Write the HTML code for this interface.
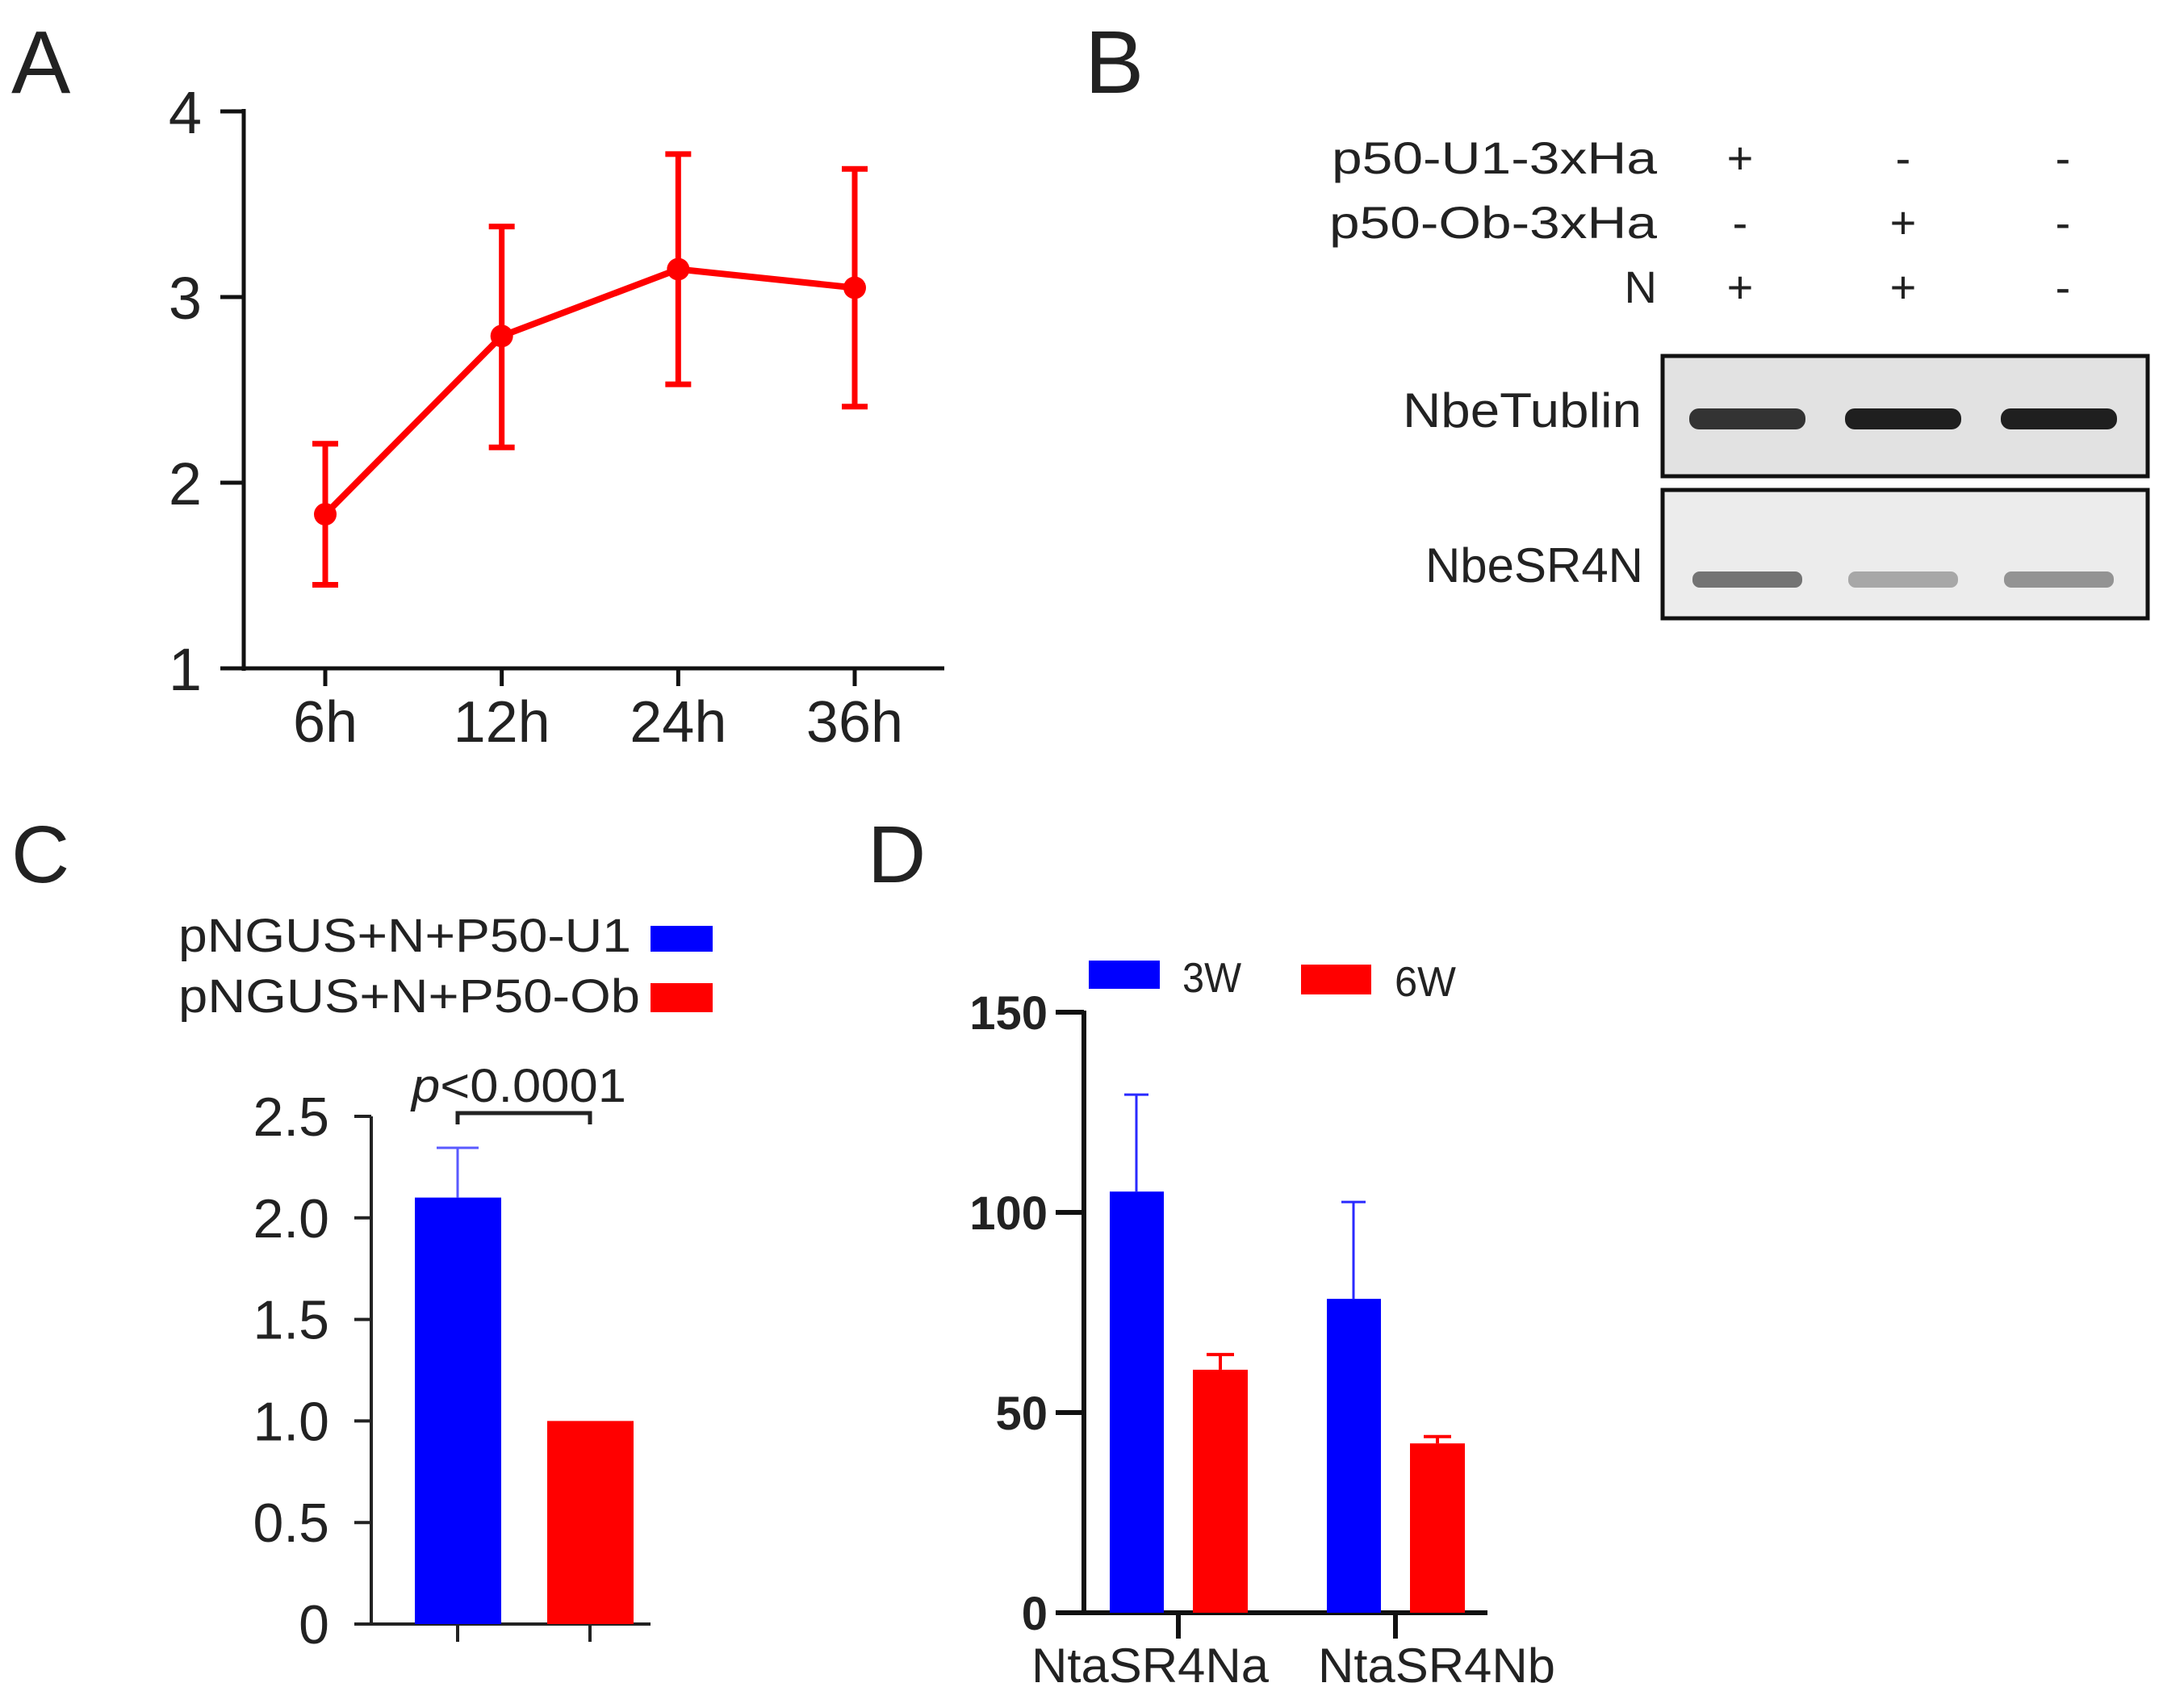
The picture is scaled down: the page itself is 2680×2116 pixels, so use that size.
<!DOCTYPE html>
<html><head><meta charset="utf-8">
<style>
html,body{margin:0;padding:0;background:#fff;}
svg{display:block;font-family:"Liberation Sans","Noto Sans CJK SC",sans-serif;}
text{fill:#222;}
</style></head>
<body>
<svg id="fig" width="2680" height="2116" viewBox="0 0 2680 2116" xmlns="http://www.w3.org/2000/svg">
<rect width="2680" height="2116" fill="#fff"/>
<text x="14" y="115" font-size="110">A</text>
<text x="1344" y="115" font-size="110">B</text>
<text x="14" y="1093" font-size="100">C</text>
<text x="1075" y="1093" font-size="100">D</text>

<g id="panelA"></g>

<g id="panelB">
  <text x="2053" y="215" font-size="56" text-anchor="end" textLength="403" lengthAdjust="spacingAndGlyphs">p50-U1-3xHa</text>
  <text x="2053" y="295" font-size="56" text-anchor="end" textLength="406" lengthAdjust="spacingAndGlyphs">p50-Ob-3xHa</text>
  <text x="2053" y="375" font-size="56" text-anchor="end">N</text>
  <text x="2034" y="529" font-size="60" text-anchor="end" textLength="296" lengthAdjust="spacingAndGlyphs">NbeTublin</text>
  <text x="2036" y="721" font-size="60" text-anchor="end" textLength="270" lengthAdjust="spacingAndGlyphs">NbeSR4N</text>
  <rect x="2060" y="441" width="601" height="149" fill="#e2e2e2" stroke="#111" stroke-width="5"/>
  <rect x="2060" y="607" width="601" height="159" fill="#ececec" stroke="#111" stroke-width="5"/>
</g>

<g id="panelC">
  <text x="221" y="1179" font-size="58" textLength="561" lengthAdjust="spacingAndGlyphs">pNGUS+N+P50-U1</text>
  <rect x="806" y="1147" width="77" height="32" fill="#0000ff"/>
  <text x="221" y="1254" font-size="58" textLength="572" lengthAdjust="spacingAndGlyphs">pNGUS+N+P50-Ob</text>
  <rect x="806" y="1218" width="77" height="36" fill="#ff0000"/>
</g>

<g id="panelD">
  <rect x="1349" y="1190" width="88" height="35" fill="#0000ff"/>
  <text x="1465" y="1229" font-size="52" fill="#333" textLength="73" lengthAdjust="spacingAndGlyphs">3W</text>
  <rect x="1612" y="1195" width="87" height="37" fill="#ff0000"/>
  <text x="1728" y="1234" font-size="52" fill="#333" textLength="76" lengthAdjust="spacingAndGlyphs">6W</text>
</g>
</svg>
<script>
const aCategories = ["6h","12h","24h","36h"];
const aMeans = [1.83, 2.79, 3.15, 3.05];
const aUpper = [2.21, 3.38, 3.77, 3.69];
const aLower = [1.45, 2.19, 2.53, 2.41];
const aTicks = [1,2,3,4];
const bLanes = ["lane1","lane2","lane3"];
const bU1 = ["+","-","-"];
const bOb = ["-","+","-"];
const bN = ["+","+","-"];
const bTublin = [0.85, 0.95, 0.95];
const bSR4N = [0.62, 0.35, 0.45];
const cCategories = ["pNGUS+N+P50-U1","pNGUS+N+P50-Ob"];
const cValues = [2.10, 1.0];
const cErrTop = [2.345, 1.0];
const cTicks = ["0","0.5","1.0","1.5","2.0","2.5"];
const cTickVals = [0,0.5,1,1.5,2,2.5];
const dCategories = ["NtaSR4Na","NtaSR4Nb"];
const d3W = [105.2, 78.4];
const d3WErr = [129.4, 102.6];
const d6W = [60.7, 42.3];
const d6WErr = [64.5, 44.0];
const dTicks = [0,50,100,150];

const NS = "http://www.w3.org/2000/svg";
function mk(parent, tag, attrs){ const e=document.createElementNS(NS,tag); for(const k in attrs) e.setAttribute(k,attrs[k]); parent.appendChild(e); return e; }

(function(){
  const g = document.getElementById("panelA");
  const y = v => 828 - (v-1)*230;
  const x0 = 403, x1 = 1059;
  const x = i => x0 + i*(x1-x0)/(aCategories.length-1);
  let e = mk(g,"line",{x1:302,y1:y(4)-3,x2:302,y2:y(1)+3,stroke:"#111","stroke-width":5});
  
  
  e = mk(g,"line",{x1:273,y1:y(1),x2:1170,y2:y(1),stroke:"#111","stroke-width":5});
  
  
  aTicks.forEach(t=>{
    let l = mk(g,"line",{x1:273,y1:y(t),x2:302,y2:y(t),stroke:"#111","stroke-width":5});
    
    
    let tx = mk(g,"text",{x:250,y:y(t)+27,"font-size":74,"text-anchor":"end"});
    tx.textContent = t;
    
    
  });
  aCategories.forEach((c,i)=>{
    let l = mk(g,"line",{x1:x(i),y1:y(1),x2:x(i),y2:y(1)+22,stroke:"#111","stroke-width":5});
    
    
    let tx = mk(g,"text",{x:x(i),y:919,"font-size":72,"text-anchor":"middle"});
    tx.textContent = c;
    
    
  });
  const pts = aMeans.map((v,i)=>x(i)+","+y(v)).join(" ");
  let pl = mk(g,"polyline",{points:pts,fill:"none",stroke:"#ff0000","stroke-width":8,"stroke-linejoin":"round"});
  
  
  aMeans.forEach((v,i)=>{
    let eb = mk(g,"path",{d:`M${x(i)},${y(aUpper[i])}V${y(aLower[i])}M${x(i)-16},${y(aUpper[i])}h32M${x(i)-16},${y(aLower[i])}h32`,stroke:"#ff0000","stroke-width":7,fill:"none"});
    
    
    let c = mk(g,"circle",{cx:x(i),cy:y(v),r:14,fill:"#ff0000"});
    
    
  });
})();

(function(){
  const g = document.getElementById("panelB");
  const lx = [2156,2358,2556];
  const bx = [2165,2358,2551];
  [[bU1,215],[bOb,295],[bN,375]].forEach(([arr,yy])=>{
    arr.forEach((s,i)=>{
      let t = mk(g,"text",{x:lx[i],y:yy,"font-size":56,"text-anchor":"middle"});
      t.textContent = s;
      
      
    });
  });
  bLanes.forEach((ln,i)=>{
    const a = bTublin[i];
    let r = mk(g,"rect",{x:bx[i]-72,y:519-13,width:144,height:26,rx:12,fill:"rgb(20,20,20)","fill-opacity":a});
    
    
    const b = bSR4N[i];
    let r2 = mk(g,"rect",{x:bx[i]-68,y:718-10,width:136,height:20,rx:9,fill:"rgb(40,40,40)","fill-opacity":b});
    
    
  });
})();

(function(){
  const g = document.getElementById("panelC");
  const y = v => 2012 - v*251.6;
  const xs = [567,731];
  let e = mk(g,"line",{x1:460,y1:y(2.5),x2:460,y2:y(0)+2,stroke:"#222","stroke-width":4});
  
  
  e = mk(g,"line",{x1:439,y1:y(0),x2:806,y2:y(0),stroke:"#222","stroke-width":4});
  
  
  cTickVals.forEach((t,i)=>{
    let l = mk(g,"line",{x1:439,y1:y(t),x2:460,y2:y(t),stroke:"#222","stroke-width":4});
    
    
    let tx = mk(g,"text",{x:408,y:y(t)+24,"font-size":68,"text-anchor":"end"});
    tx.textContent = cTicks[i];
    
    
  });
  const cols = ["#0000ff","#ff0000"];
  cValues.forEach((v,i)=>{
    let b = mk(g,"rect",{x:xs[i]-53,y:y(v),width:107,height:y(0)-y(v),fill:cols[i]});
    
    
    if(cErrTop[i]>v){
      let eb = mk(g,"path",{d:`M${xs[i]},${y(v)}V${y(cErrTop[i])}M${xs[i]-26},${y(cErrTop[i])}h52`,stroke:"#5a5aff","stroke-width":3,fill:"none"});
      
      
    }
    let l = mk(g,"line",{x1:xs[i],y1:y(0),x2:xs[i],y2:y(0)+22,stroke:"#222","stroke-width":4});
    
    
  });
  let br = mk(g,"path",{d:`M${xs[0]},1393V1379H${xs[1]}V1393`,stroke:"#222","stroke-width":5,fill:"none"});
  
  
  let pt = mk(g,"text",{x:510,y:1365,"font-size":58,textLength:266,lengthAdjust:"spacingAndGlyphs"});
  pt.innerHTML = '<tspan font-style="italic">p</tspan>&lt;0.0001';
  
  
})();

(function(){
  const g = document.getElementById("panelD");
  const y = v => 1998 - v*4.96;
  const gx = [1460,1729];
  const lblX = [1425,1780];
  let e = mk(g,"line",{x1:1343,y1:y(150)-2,x2:1343,y2:y(0)+3,stroke:"#111","stroke-width":6});
  
  
  e = mk(g,"line",{x1:1308,y1:y(0),x2:1843,y2:y(0),stroke:"#111","stroke-width":6});
  
  
  dTicks.forEach(t=>{
    let l = mk(g,"line",{x1:1308,y1:y(t),x2:1343,y2:y(t),stroke:"#111","stroke-width":6});
    
    
    let tx = mk(g,"text",{x:1298,y:y(t)+21,"font-size":58,"font-weight":"bold","text-anchor":"end"});
    tx.textContent = t;
    
    
  });
  dCategories.forEach((c,i)=>{
    const b1x = gx[i]-85, b2x = gx[i]+18;
    let b = mk(g,"rect",{x:b1x,y:y(d3W[i]),width:67,height:y(0)-y(d3W[i]),fill:"#0000ff"});
    
    
    let eb = mk(g,"path",{d:`M${b1x+33},${y(d3W[i])}V${y(d3WErr[i])}M${b1x+18},${y(d3WErr[i])}h30`,stroke:"#2a2aff","stroke-width":3,fill:"none"});
    
    
    let r = mk(g,"rect",{x:b2x,y:y(d6W[i]),width:68,height:y(0)-y(d6W[i]),fill:"#ff0000"});
    
    
    let er = mk(g,"path",{d:`M${b2x+34},${y(d6W[i])}V${y(d6WErr[i])}M${b2x+17},${y(d6WErr[i])}h34`,stroke:"#ff0000","stroke-width":4,fill:"none"});
    
    
    let l = mk(g,"line",{x1:gx[i],y1:y(0),x2:gx[i],y2:2030,stroke:"#111","stroke-width":6});
    
    
    let tx = mk(g,"text",{x:lblX[i],y:2084,"font-size":60,"text-anchor":"middle",fill:"#333",textLength:294,lengthAdjust:"spacingAndGlyphs"});
    tx.textContent = c;
    
    
  });
})();
</script>
</body></html>
